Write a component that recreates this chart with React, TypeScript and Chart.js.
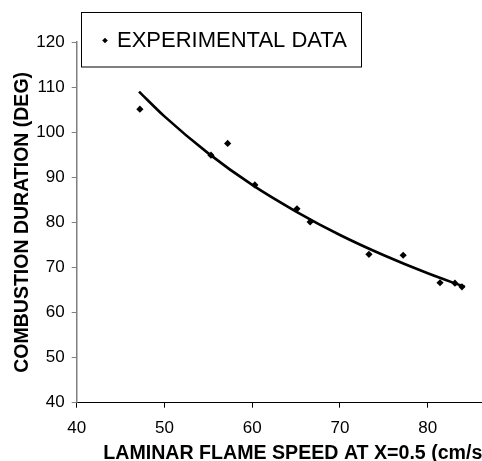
import React, { useEffect, useRef } from "react";
import { Chart, registerables } from "chart.js";

Chart.register(...registerables);

const speedX = [47.2, 55.3, 57.2, 60.3, 65.1, 66.6, 73.3, 77.2, 81.4, 83.1, 83.9];
const durationY = [105.1, 94.9, 97.5, 88.3, 83.0, 80.1, 72.9, 72.7, 66.6, 66.5, 65.7];
const trendX = [47.1, 50, 55, 60, 65, 70, 75, 80, 84.2];
const trendY = [109.0, 103.5, 95.3, 88.3, 82.4, 77.2, 72.7, 68.7, 65.7];
const xTicks = [40, 50, 60, 70, 80, 90];
const yTicks = [40, 50, 60, 70, 80, 90, 100, 110, 120];
const legendLabel = "EXPERIMENTAL DATA";
const xTitle = "LAMINAR FLAME SPEED AT X=0.5 (cm/s)";
const yTitle = "COMBUSTION DURATION (DEG)";

const FONT = "'Liberation Sans', Arial, Helvetica, sans-serif";

const boxLegend = {
  id: "boxLegend",
  afterDraw(chart: any) {
    const ctx = chart.ctx;
    ctx.save();
    ctx.strokeStyle = "#000";
    ctx.lineWidth = 1;
    ctx.strokeRect(81.5, 12.5, 280, 54.5);
    ctx.fillStyle = "#000";
    const cx = 105, cy = 40.5, r = 2.8;
    ctx.beginPath();
    ctx.moveTo(cx, cy - r);
    ctx.lineTo(cx + r, cy);
    ctx.lineTo(cx, cy + r);
    ctx.lineTo(cx - r, cy);
    ctx.closePath();
    ctx.fill();
    ctx.font = `22px ${FONT}`;
    ctx.textBaseline = "middle";
    ctx.textAlign = "left";
    ctx.fillText(legendLabel, 117, 41);
    ctx.restore();
  },
};

export default function App() {
  const ref = useRef<HTMLCanvasElement | null>(null);
  useEffect(() => {
    if (!ref.current) return;
    const chart = new Chart(ref.current, {
      type: "scatter",
      data: {
        datasets: [
          {
            label: legendLabel,
            data: speedX.map((x, i) => ({ x, y: durationY[i] })),
            pointStyle: "rectRot",
            pointRadius: 3.6,
            backgroundColor: "#000",
            borderColor: "#000",
            borderWidth: 0,
            showLine: false,
            order: 1,
          },
          {
            label: "trend",
            data: trendX.map((x, i) => ({ x, y: trendY[i] })),
            showLine: true,
            borderColor: "#000",
            borderWidth: 2.6,
            pointRadius: 0,
            tension: 0.4,
            cubicInterpolationMode: "monotone",
            order: 2,
          } as any,
        ],
      },
      options: {
        responsive: false,
        animation: false,
        devicePixelRatio: 1,
        layout: { padding: { left: 11, top: 42, right: 24.5, bottom: 0 } },
        plugins: {
          legend: { display: false },
          tooltip: { enabled: false },
        },
        scales: {
          x: {
            type: "linear",
            min: 40,
            max: 90,
            afterBuildTicks: (s: any) => {
              s.ticks = xTicks.map((v) => ({ value: v }));
            },
            afterFit: (s: any) => {
              s.height = 62.3;
            },
            ticks: {
              color: "#000",
              font: { family: FONT, size: 17 },
              padding: 10,
              maxRotation: 0,
            },
            grid: {
              display: true,
              drawOnChartArea: false,
              drawTicks: true,
              tickLength: 5,
              color: "#000",
            },
            border: { display: true, color: "#000", width: 1 },
            title: {
              display: true,
              text: xTitle,
              color: "#000",
              font: { family: FONT, size: 19.6, weight: "bold" },
              padding: { top: 4, bottom: 0 },
            },
          },
          y: {
            type: "linear",
            min: 40,
            max: 120,
            afterBuildTicks: (s: any) => {
              s.ticks = yTicks.map((v) => ({ value: v }));
            },
            afterFit: (s: any) => {
              s.width = 65.7;
            },
            ticks: {
              color: "#000",
              font: { family: FONT, size: 17 },
              padding: 7,
            },
            grid: {
              display: true,
              drawOnChartArea: false,
              drawTicks: true,
              tickLength: 5,
              color: "#808080",
            },
            border: { display: true, color: "#808080", width: 1.5 },
            title: {
              display: true,
              text: yTitle,
              color: "#000",
              font: { family: FONT, size: 19.5, weight: "bold" },
              padding: { top: 0, bottom: 3 },
            },
          },
        },
      },
      plugins: [boxLegend],
    });
    return () => chart.destroy();
  }, []);

  return (
    <div
      style={{
        position: "fixed",
        left: 0,
        top: 0,
        width: 482,
        height: 461,
        overflow: "hidden",
        background: "#fff",
      }}
    >
      <canvas ref={ref} width={540} height={465} style={{ display: "block" }} />
    </div>
  );
}
